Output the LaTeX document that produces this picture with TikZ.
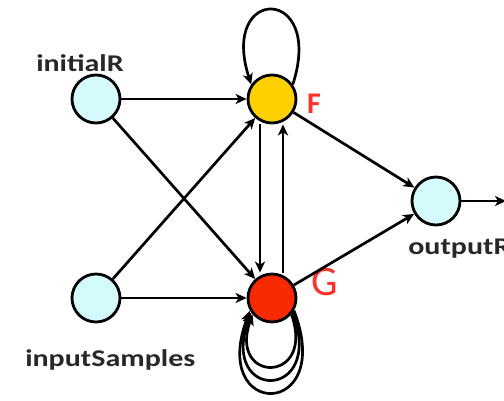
\documentclass[tikz,border=0pt]{standalone}
\usepackage{fontspec}
\setmainfont{Carlito}
\usetikzlibrary{arrows.meta}
\definecolor{lcyan}{RGB}{212,250,252}
\definecolor{fgold}{RGB}{255,208,0}
\definecolor{gred}{RGB}{250,42,0}
\definecolor{lblred}{RGB}{255,48,40}
\definecolor{lblgray}{RGB}{40,40,40}
\tikzset{
  st/.style={circle, draw=black, line width=2.8pt, minimum size=48pt, inner sep=0pt},
  edge/.style={line width=2.7pt, -{Stealth[length=11pt,width=10pt,inset=3pt]}},
  lbl/.style={inner sep=0pt, anchor=base west, text=lblgray, font=\fontsize{24}{24}\bfseries\selectfont, xscale=1.25},
}
\begin{document}
\begin{tikzpicture}[x=1pt,y=1pt]
\useasboundingbox (0,0) rectangle (504,400);
\node[st, fill=lcyan] (iR) at (96,301) {};
\node[st, fill=lcyan] (iS) at (96,102) {};
\node[st, fill=fgold] (F) at (272,301) {};
\node[st, fill=gred] (G) at (272,102) {};
\node[st, fill=lcyan] (oR) at (436,199) {};
\coordinate (out) at (506,199);

\node[lbl] (tiR) at (36,328) {initialR};
\node[lbl] (tiS) at (25,34) {inputSamples};
\node[lbl] (toR) at (408,146) {outputR};
\node[inner sep=0pt, anchor=base west, text=lblred, font=\fontsize{30}{30}\bfseries\selectfont] (tF) at (307,287) {F};
\node[inner sep=0pt, anchor=base west, text=lblred, font=\fontsize{42}{42}\selectfont] (tG) at (311,105) {G};

\draw[edge] (iR) -- (F);
\draw[edge] (iR) -- (G);
\draw[edge] (iS) -- (F);
\draw[edge] (iS) -- (G);
\draw[edge] ([xshift=-12pt]F.south) -- ([xshift=-12pt]G.north);
\draw[edge] ([xshift=11pt]G.north) -- ([xshift=11pt]F.south);
\draw[edge] (F) -- (oR);
\draw[edge] (G) -- (oR);
\draw[edge] (oR) -- (out);

% F self loop
\draw[edge] (F.35) .. controls (325,415) and (219,415) .. (F.145);
% G self loops
\draw[edge] (G.-40) .. controls (316,16) and (228,16) .. (G.-140);
\draw[edge] (G.-35) .. controls (326,-2) and (218,-2) .. (G.-145);
\draw[edge] (G.-30) .. controls (336,-20) and (208,-20) .. (G.-150);
\end{tikzpicture}
\end{document}
